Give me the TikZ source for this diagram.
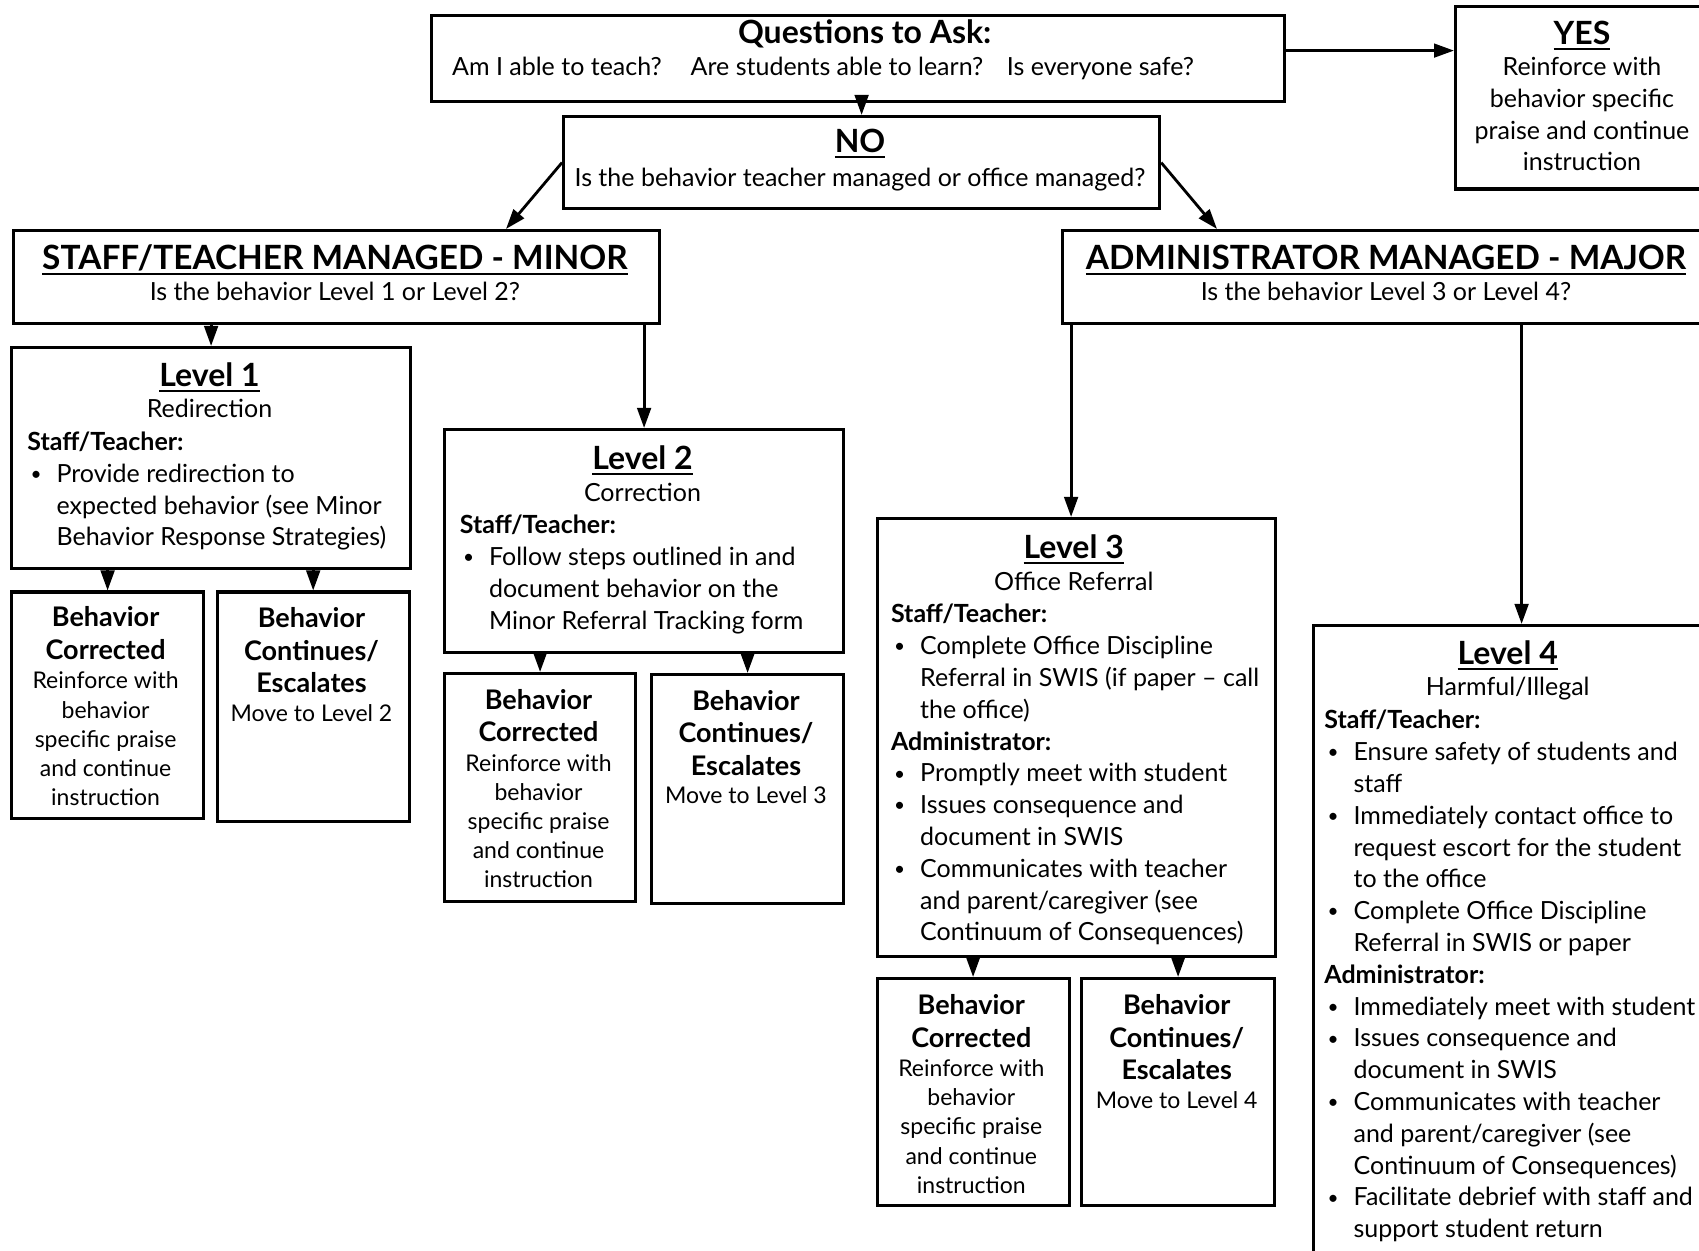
\documentclass[tikz,border=0pt]{standalone}
\usepackage{fontspec}
\setmainfont{Lato}
\usetikzlibrary{arrows.meta}
\newsavebox\ulbox
\newcommand\ulin[1]{\sbox\ulbox{#1}\rlap{\vrule width\wd\ulbox height -1.6pt depth 2.6pt}\usebox\ulbox}
\newcommand\bpt{\makebox[14.6pt][l]{\hspace*{1.6pt}\raisebox{0.9pt}{\fontsize{9.5}{9.5}\selectfont\textbullet}}}
\newcommand\bind{\hspace*{14.6pt}}
\begin{document}
\begin{tikzpicture}[x=0.5pt,y=-0.5pt,
  bx/.style={draw, line width=1.6pt, inner sep=0pt, anchor=north west},
  arr/.style={line width=1.4pt, -{Triangle[length=10pt,width=6.8pt]}},
  tx/.style={inner sep=0pt, text=black},
  one/.style={tx, anchor=base, font=\fontsize{12.5}{15.9}\selectfont},
  hd/.style={tx, anchor=base, font=\fontsize{16}{18}\selectfont\bfseries},
  big/.style={tx, anchor=base, font=\fontsize{16.7}{19}\selectfont\bfseries},
  bod/.style={tx, align=left, anchor=north west, font=\fontsize{12.5}{15.9}\selectfont},
  cbod/.style={tx, align=center, anchor=north, font=\fontsize{12.5}{15.8}\selectfont},
  btt/.style={tx, align=center, anchor=north, font=\fontsize{13.5}{16.2}\selectfont\bfseries},
  sm/.style={tx, align=center, anchor=north, font=\fontsize{11.5}{14.6}\selectfont}]
\useasboundingbox (0,0) rectangle (1699,1251);
\fill[white] (0,0) rectangle (1699,1251);

% boxes
\node[bx, minimum width=426.5pt, minimum height=43pt] (q) at (430,14) {};
\node[bx, minimum width=128pt, minimum height=91.25pt] (yes) at (1454,5) {};
\node[bx, minimum width=298pt, minimum height=46pt] (no) at (562,115) {};
\node[bx, minimum width=323pt, minimum height=46.5pt] (staff) at (12,229) {};
\node[bx, minimum width=325.5pt, minimum height=46.5pt] (admin) at (1061,229) {};
\node[bx, minimum width=199.5pt, minimum height=110.5pt] (l1) at (10,346) {};
\node[bx, minimum width=199.5pt, minimum height=111.5pt] (l2) at (443,428) {};
\node[bx, minimum width=199pt, minimum height=219pt] (l3) at (875.5,517) {};
\node[bx, minimum width=208pt, minimum height=323pt] (l4) at (1312,624) {};
\node[bx, minimum width=96pt, minimum height=113.25pt] (bc1) at (10,590.5) {};
\node[bx, minimum width=96pt, minimum height=114.85pt] (be1) at (215.6,590.5) {};
\node[bx, minimum width=95.5pt, minimum height=113.75pt] (bc2) at (443,672) {};
\node[bx, minimum width=96pt, minimum height=114.25pt] (be2) at (650,673) {};
\node[bx, minimum width=96pt, minimum height=113.25pt] (bc3) at (875.5,977) {};
\node[bx, minimum width=96.5pt, minimum height=113.25pt] (be3) at (1080,977) {};

% texts
\node[hd] (qt) at (864.7,44) {Questions to Ask:};
\node[one] (qa) at (557,76) {Am I able to teach?};
\node[one] (qb) at (837,76) {Are students able to learn?};
\node[one] (qc) at (1100.5,76) {Is everyone safe?};

\node[hd] (yest) at (1582,44.5) {\ulin{YES}};
\node[cbod] (yesb) at (1582,57) {Reinforce with\\behavior specific\\praise and continue\\instruction};

\node[hd] (not) at (860,153) {\ulin{NO}};
\node[one] (nob) at (860,187) {Is the behavior teacher managed or office managed?};

\node[big] (stafft) at (335,270) {\ulin{STAFF/TEACHER MANAGED - MINOR}};
\node[one] (staffb) at (335,300.5) {Is the behavior Level 1 or Level 2?};
\node[big] (admint) at (1386,270) {\ulin{ADMINISTRATOR MANAGED - MAJOR}};
\node[one] (adminb) at (1386,300.5) {Is the behavior Level 3 or Level 4?};

\node[hd] (l1t) at (209.5,386.5) {\ulin{Level 1}};
\node[one] (l1s) at (209.5,417.5) {Redirection};
\node[bod] (l1b) at (27,431.5) {\textbf{Staff/Teacher:}\\
\bpt Provide redirection to\\
\bind expected behavior (see Minor\\
\bind Behavior Response Strategies)};

\node[hd] (l2t) at (642.5,470) {\ulin{Level 2}};
\node[one] (l2s) at (642.5,502) {Correction};
\node[bod] (l2b) at (459.4,515) {\textbf{Staff/Teacher:}\\
\bpt Follow steps outlined in and\\
\bind document behavior on the\\
\bind Minor Referral Tracking form};

\node[hd] (l3t) at (1073.7,558.7) {\ulin{Level 3}};
\node[one] (l3s) at (1073.7,590.8) {Office Referral};
\node[bod] (l3b) at (890.6,604) {\textbf{Staff/Teacher:}\\
\bpt Complete Office Discipline\\
\bind Referral in SWIS (if paper – call\\
\bind the office)\\
\textbf{Administrator:}\\
\bpt Promptly meet with student\\
\bpt Issues consequence and\\
\bind document in SWIS\\
\bpt Communicates with teacher\\
\bind and parent/caregiver (see\\
\bind Continuum of Consequences)};

\node[hd] (l4t) at (1507.7,665) {\ulin{Level 4}};
\node[one] (l4s) at (1507.7,696) {Harmful/Illegal};
\node[bod] (l4b) at (1324,710) {\textbf{Staff/Teacher:}\\
\bpt Ensure safety of students and\\
\bind staff\\
\bpt Immediately contact office to\\
\bind request escort for the student\\
\bind to the office\\
\bpt Complete Office Discipline\\
\bind Referral in SWIS or paper\\
\textbf{Administrator:}\\
\bpt Immediately meet with student\\
\bpt Issues consequence and\\
\bind document in SWIS\\
\bpt Communicates with teacher\\
\bind and parent/caregiver (see\\
\bind Continuum of Consequences)\\
\bpt Facilitate debrief with staff and\\
\bind support student return};

\node[btt] (bc1t) at (105.6,606.5) {Behavior\\Corrected};
\node[sm] (bc1b) at (105.6,671.5) {Reinforce with\\behavior\\specific praise\\and continue\\instruction};
\node[btt] (be1t) at (311.5,607.5) {Behavior\\Continues/\\Escalates};
\node[sm] (be1b) at (311.5,704) {Move to Level 2};

\node[btt] (bc2t) at (538.5,689) {Behavior\\Corrected};
\node[sm] (bc2b) at (538.5,753.7) {Reinforce with\\behavior\\specific praise\\and continue\\instruction};
\node[btt] (be2t) at (746,690) {Behavior\\Continues/\\Escalates};
\node[sm] (be2b) at (746,786.2) {Move to Level 3};

\node[btt] (bc3t) at (971.3,994.5) {Behavior\\Corrected};
\node[sm] (bc3b) at (971.3,1059.2) {Reinforce with\\behavior\\specific praise\\and continue\\instruction};
\node[btt] (be3t) at (1176.7,994.5) {Behavior\\Continues/\\Escalates};
\node[sm] (be3b) at (1176.7,1090.7) {Move to Level 4};

% connectors
\draw[arr] (q.south -| no.north) -- (no.north);
\draw[arr] ([yshift=4pt]q.east) -- ([yshift=4pt]q.east -| yes.west);
\draw[arr] (no.west) -- ([xshift=247pt]staff.north west);
\draw[arr] (no.east) -- ([xshift=78pt]admin.north west);
\draw[arr] (staff.south -| l1.north) -- (l1.north);
\draw[arr] (staff.south -| l2.north) -- (l2.north);
\coordinate (l3in) at ([xshift=-2.5pt]l3.north);
\draw[arr] (admin.south -| l3in) -- (l3in);
\draw[arr] (admin.south -| l4.north) -- (l4.north);
\draw[arr] (l1.south -| bc1.north) -- (bc1.north);
\draw[arr] (l1.south -| be1.north) -- (be1.north);
\draw[arr] (l2.south -| bc2.north) -- (bc2.north);
\draw[arr] (l2.south -| be2.north) -- (be2.north);
\draw[arr] (l3.south -| bc3.north) -- (bc3.north);
\draw[arr] (l3.south -| be3.north) -- (be3.north);
\end{tikzpicture}
\end{document}
